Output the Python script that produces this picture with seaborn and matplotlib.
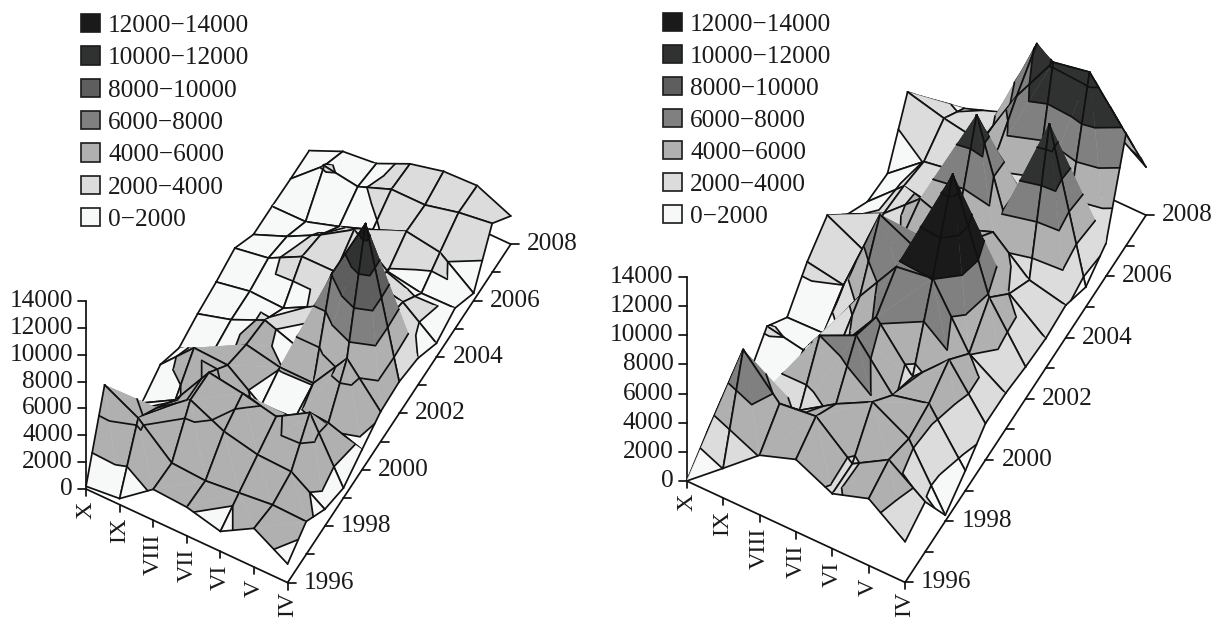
import matplotlib
matplotlib.use('Agg')
import matplotlib.pyplot as plt
from matplotlib.patches import Patch
import seaborn as sns

sns.set_theme(style="white")
plt.rcParams['font.family'] = ['Liberation Serif', 'DejaVu Serif']

# Months run from the X corner to the IV corner, one row per year
months = ['X', 'IX', 'VIII', 'VII', 'VI', 'V', 'IV']
years = list(range(1996, 2009))
z_ticks = [0, 2000, 4000, 6000, 8000, 10000, 12000, 14000]
levels = [0, 2000, 4000, 6000, 8000, 10000, 12000, 14000]
band_labels = ['0\u22122000', '2000\u22124000', '4000\u22126000', '6000\u22128000',
               '8000\u221210000', '10000\u221212000', '12000\u221214000']

left_values = [
    [200, 450, 2300, 2130, 1490, 2880, 1390],
    [5650, 4340, 2160, 2000, 2260, 2530, 2450],
    [300, 3000, 4760, 3570, 3000, 2900, 1260],
    [100, 1500, 4700, 4300, 3740, 5200, 740],
    [870, 3270, 3150, 1300, 1500, 2330, 1500],
    [0, 800, 2580, 2050, 2030, 5030, 2230],
    [450, 1170, 2300, 1400, 8100, 12970, 2360],
    [720, 1190, 1090, 2380, 5500, 3500, 2000],
    [1140, 1560, 2830, 2850, 3500, 2930, 1020],
    [50, 1070, 2350, 3900, 1930, 1490, 1540],
    [50, 70, 870, 1790, 2830, 2430, 550],
    [0, 2130, 1740, 2700, 2700, 3300, 3650],
    [0, 1100, 1360, 2500, 3100, 3200, 2100],
]

right_values = [
    [0, 2030, 4090, 4960, 3770, 4590, 2790],
    [1200, 8080, 5530, 5820, 3720, 5160, 3430],
    [500, 3000, 2970, 4570, 5870, 4500, 410],
    [600, 700, 6000, 7170, 4230, 4820, 1370],
    [2220, 1740, 3200, 6330, 3380, 5730, 2500],
    [730, 800, 4500, 7680, 8040, 4040, 2470],
    [2440, 2000, 8000, 6800, 13100, 5800, 2190],
    [3540, 2280, 4000, 5000, 6500, 3950, 2030],
    [1500, 2720, 4890, 4000, 4930, 2790, 2220],
    [270, 2500, 2000, 9700, 1800, 11400, 1370],
    [100, 2080, 2500, 5000, 2100, 3600, 2260],
    [3600, 2950, 2500, 6800, 10280, 10760, 7670],
    [1050, 1530, 2440, 8300, 6000, 5000, 3300],
]

palette = sns.color_palette(['#f7f9f8', '#dcdcdc', '#b0b0b0', '#808080',
                             '#5e5e5e', '#303232', '#1a1a1a'])
LW = 1.25
TICK_SIZE = 18.2


def clip_above(poly, level):
    out = []
    for i in range(len(poly)):
        a, b = poly[i], poly[(i + 1) % len(poly)]
        if a[2] >= level:
            out.append(a)
        if (a[2] >= level) != (b[2] >= level):
            t = (level - a[2]) / (b[2] - a[2])
            out.append((a[0] + t * (b[0] - a[0]), a[1] + t * (b[1] - a[1]), level))
    return out


def clip_below(poly, level):
    out = []
    for i in range(len(poly)):
        a, b = poly[i], poly[(i + 1) % len(poly)]
        if a[2] <= level:
            out.append(a)
        if (a[2] <= level) != (b[2] <= level):
            t = (level - a[2]) / (b[2] - a[2])
            out.append((a[0] + t * (b[0] - a[0]), a[1] + t * (b[1] - a[1]), level))
    return out


def draw_panel(ax, values, origin, month_step, year_step, z_scale, legend_xy, spacing, style):
    def project(m, y, z=0):
        return (origin[0] + m * month_step[0] + y * year_step[0],
                origin[1] + m * month_step[1] + y * year_step[1] - z * z_scale)

    def line(p, q, order, color='#111111'):
        ax.plot([p[0], q[0]], [p[1], q[1]], color=color, lw=LW, zorder=order,
                solid_capstyle='round', solid_joinstyle='round')

    def band_color(band, y, top):
        # the left chart prints its front half one shade darker, the right one merges the top bands
        if style == 'left' and band == 1 and y < 6:
            return palette[2]
        if style == 'right' and band >= 4:
            return palette[6] if top > 12000 else palette[5]
        return palette[band]

    last_m, last_y = len(months) - 1, len(years) - 1

    # axes
    line(project(0, 0), project(0, 0, z_ticks[-1]), 1)
    for z in z_ticks:
        p = project(0, 0, z)
        line(p, (p[0] - 8, p[1]), 1)
        ax.text(p[0] - 13, p[1], str(z), ha='right', va='center', fontsize=TICK_SIZE, color='#1a1a1a')
    line(project(0, 0), project(last_m, 0), 1)
    for m, label in enumerate(months):
        p = project(m, 0)
        line(p, (p[0], p[1] + 7), 1)
        ax.text(p[0], p[1] + (9 if label == 'IV' else 13), label, rotation=90, ha='center', va='top',
                fontsize=TICK_SIZE - 0.8, color='#1a1a1a')
    line(project(last_m, 0), project(last_m, last_y), 1)
    line(project(0, last_y), project(last_m, last_y), 1)
    for y, year in enumerate(years):
        p = project(last_m, y)
        line(p, (p[0] + 8, p[1]), 1)
        if y % 2 == 0:
            ax.text(p[0] + 16, p[1], str(year), ha='left', va='center', fontsize=TICK_SIZE, color='#1a1a1a')

    # surface, painted from the back corner to the front corner
    order = 2
    for y in range(last_y - 1, -1, -1):
        for m in range(last_m):
            a = (m, y, values[y][m])
            b = (m + 1, y, values[y][m + 1])
            c = (m + 1, y + 1, values[y + 1][m + 1])
            d = (m, y + 1, values[y + 1][m])
            # each cell folds along an unstroked diagonal through its highest corner
            if max(a[2], c[2]) >= max(b[2], d[2]):
                parts = (((a, c, d), ((c, d), (d, a))), ((a, b, c), ((a, b), (b, c))))
            else:
                parts = (((b, c, d), ((b, c), (c, d))), ((a, b, d), ((a, b), (d, a))))
            for tri, edges in parts:
                top = max(v[2] for v in tri)
                for band in range(len(palette)):
                    piece = clip_below(clip_above(list(tri), levels[band]), levels[band + 1])
                    if len(piece) < 3:
                        continue
                    xy = [project(*v) for v in piece]
                    color = band_color(band, y, top)
                    ax.fill([p[0] for p in xy], [p[1] for p in xy], facecolor=color,
                            edgecolor=color, lw=0.3, zorder=order)
                order += 1
                for level in levels[1:-1]:
                    cross = []
                    for i in range(3):
                        p, q = tri[i], tri[(i + 1) % 3]
                        if (p[2] >= level) != (q[2] >= level):
                            t = (level - p[2]) / (q[2] - p[2])
                            cross.append(project(p[0] + t * (q[0] - p[0]), p[1] + t * (q[1] - p[1]), level))
                    if len(cross) == 2:
                        line(cross[0], cross[1], order)
                for p, q in edges:
                    line(project(*p), project(*q), order)
                order += 1

    handles = [Patch(facecolor=palette[i], edgecolor='#1a1a1a', lw=1.2, label=band_labels[i])
               for i in range(len(palette) - 1, -1, -1)]
    ax.legend(handles=handles, loc='upper left', bbox_to_anchor=legend_xy, bbox_transform=ax.transData,
              frameon=False, borderpad=0, borderaxespad=0, fontsize=TICK_SIZE, handlelength=0.74,
              handleheight=0.74, handletextpad=0.33, labelspacing=spacing, labelcolor='#1a1a1a')
    ax.set_axis_off()


fig = plt.figure(figsize=(12.11, 6.19), dpi=100)
ax_left = fig.add_axes([0, 0, 1, 1])
ax_left.set_xlim(0, 1211)
ax_left.set_ylim(619, 0)
draw_panel(ax_left, left_values, (86, 489), (33.6, 15.6), (18.6, -28.2), 188 / 14000, (81, 14), 0.37, 'left')

ax_right = fig.add_axes([0, 0, 1, 1])
ax_right.set_xlim(0, 1211)
ax_right.set_ylim(619, 0)
ax_right.patch.set_alpha(0)
draw_panel(ax_right, right_values, (686.7, 481), (36.4, 16.9), (20.08, -30.6), 204 / 14000, (663, 13), 0.355, 'right')

fig.savefig('out.png', dpi=100, facecolor='white')
